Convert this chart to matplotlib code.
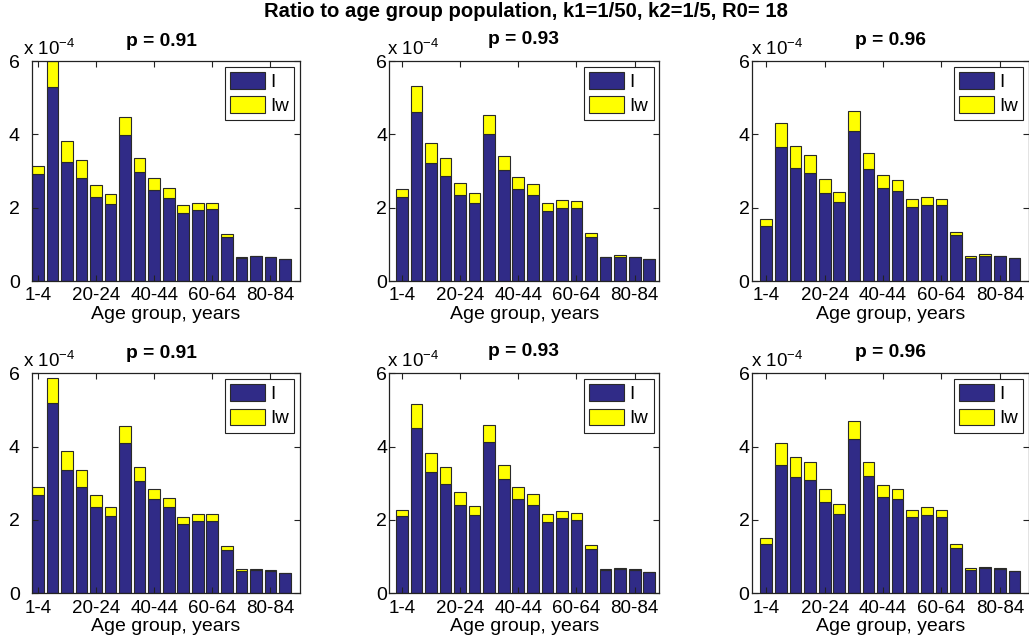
import matplotlib
matplotlib.use("Agg")
import matplotlib.pyplot as plt
from matplotlib.patches import Patch

plt.rcParams["font.family"] = ["Liberation Sans", "DejaVu Sans"]
plt.rcParams["mathtext.fontset"] = "custom"
plt.rcParams["mathtext.rm"] = "Liberation Sans"
plt.rcParams["mathtext.it"] = "Liberation Sans"

# ---- data (values in units of 1e-4) ----
age_groups = ["1-4", "5-9", "10-14", "15-19", "20-24", "25-29", "30-34", "35-39",
              "40-44", "45-49", "50-54", "55-59", "60-64", "65-69", "70-74",
              "75-79", "80-84", "85+"]
shown_ticks = ["1-4", "20-24", "40-44", "60-64", "80-84"]
scale = 1e-4
p_values = [0.91, 0.93, 0.96, 0.91, 0.93, 0.96]

i_top_091 = [2.93, 5.30, 3.24, 2.80, 2.29, 2.11, 3.98, 2.96, 2.48, 2.27, 1.85, 1.94, 1.96, 1.20, 0.62, 0.67, 0.655, 0.59]
iw_top_091 = [0.22, 0.70, 0.59, 0.49, 0.33, 0.25, 0.48, 0.40, 0.32, 0.28, 0.21, 0.19, 0.17, 0.09, 0.04, 0.01, 0.01, 0.01]

i_top_093 = [2.30, 4.62, 3.22, 2.87, 2.34, 2.13, 4.02, 3.02, 2.50, 2.34, 1.92, 1.98, 1.98, 1.20, 0.655, 0.66, 0.655, 0.59]
iw_top_093 = [0.22, 0.70, 0.55, 0.49, 0.34, 0.26, 0.50, 0.39, 0.35, 0.30, 0.21, 0.22, 0.19, 0.11, 0.01, 0.05, 0.01, 0.01]

i_top_096 = [1.50, 3.65, 3.08, 2.95, 2.41, 2.15, 4.08, 3.05, 2.55, 2.45, 2.02, 2.08, 2.06, 1.25, 0.62, 0.68, 0.67, 0.62]
iw_top_096 = [0.18, 0.65, 0.59, 0.50, 0.37, 0.27, 0.55, 0.43, 0.33, 0.30, 0.23, 0.21, 0.19, 0.10, 0.05, 0.06, 0.01, 0.01]

i_bot_091 = [2.67, 5.18, 3.35, 2.90, 2.35, 2.11, 4.09, 3.06, 2.56, 2.35, 1.88, 1.97, 1.97, 1.18, 0.61, 0.63, 0.62, 0.55]
iw_bot_091 = [0.22, 0.68, 0.53, 0.47, 0.32, 0.24, 0.46, 0.39, 0.29, 0.25, 0.21, 0.19, 0.18, 0.10, 0.04, 0.04, 0.01, 0.01]

i_bot_093 = [2.10, 4.51, 3.30, 2.97, 2.42, 2.14, 4.14, 3.11, 2.57, 2.42, 1.95, 2.05, 2.01, 1.21, 0.64, 0.66, 0.64, 0.57]
iw_bot_093 = [0.17, 0.64, 0.52, 0.48, 0.33, 0.23, 0.46, 0.38, 0.32, 0.28, 0.21, 0.19, 0.18, 0.10, 0.01, 0.02, 0.01, 0.01]

i_bot_096 = [1.35, 3.51, 3.17, 3.08, 2.49, 2.17, 4.22, 3.20, 2.64, 2.56, 2.07, 2.14, 2.08, 1.24, 0.64, 0.69, 0.65, 0.61]
iw_bot_096 = [0.16, 0.58, 0.54, 0.49, 0.36, 0.26, 0.49, 0.37, 0.31, 0.29, 0.21, 0.20, 0.19, 0.10, 0.05, 0.02, 0.04, 0.01]

panels_i = [i_top_091, i_top_093, i_top_096, i_bot_091, i_bot_093, i_bot_096]
panels_iw = [iw_top_091, iw_top_093, iw_top_096, iw_bot_091, iw_bot_093, iw_bot_096]

# ---- layout (pixels) ----
W, H = 1029, 641
fig = plt.figure(figsize=(W / 100, H / 100), dpi=100)
fig.patch.set_facecolor("white")

col_box = [(31.7, 300.0, (0.58, 19.03), 23.0, 8.5),
           (389.3, 659.3, (0.14, 18.69), 387.0, 1.5),
           (751.7, 1029.0, (0.0, 19.0), 751.0, 1.5)]
row_box = [(61.0, 281.0), (373.3, 593.3)]
title_lift = [15, 17, 16]

c_i = "#302b87"
c_iw = "#ffff00"
edge = "#2a2a2a"
fs = 13.5

x = list(range(1, len(age_groups) + 1))
tick_pos = [x[age_groups.index(t)] for t in shown_ticks]

for k in range(6):
    r, c = divmod(k, 3)
    left, right, xlim, virt_left, ypad = col_box[c]
    top, bottom = row_box[r]
    ax = fig.add_axes([left / W, 1 - bottom / H, (right - left) / W, (bottom - top) / H])

    iv = [v * scale for v in panels_i[k]]
    iwv = [v * scale for v in panels_iw[k]]
    ax.bar(x, iv, width=0.8, color=c_i, edgecolor=edge, linewidth=0.8, label="I")
    ax.bar(x, iwv, width=0.8, bottom=iv, color=c_iw, edgecolor=edge, linewidth=0.8, label="Iw")

    ax.set_xlim(*xlim)
    ax.set_ylim(0, 6 * scale)
    ax.set_xticks(tick_pos)
    ax.set_xticklabels(shown_ticks, fontsize=fs)
    yt = [0, 2, 4, 6]
    ax.set_yticks([v * scale for v in yt])
    ax.set_yticklabels([str(v) for v in yt], fontsize=fs + 0.5)
    ax.tick_params(axis="both", direction="in", length=4, width=0.8,
                   top=True, right=True, colors="#222222", labelcolor="black")
    ax.tick_params(axis="y", pad=ypad)
    ax.tick_params(axis="x", pad=4.5)
    for s in ax.spines.values():
        s.set_linewidth(0.9)
        s.set_color("#222222")

    ax.set_xlabel("Age group, years", fontsize=fs + 0.5, labelpad=1)

    # exponent label above the axis
    fig.text(virt_left / W, 1 - (top - 6) / H, r"x 10$^{-4}$", fontsize=fs,
             ha="left", va="baseline")
    # panel title centred over the full bar range
    cx = (virt_left + right) / 2 if c < 2 else (left + right) / 2
    fig.text(cx / W, 1 - (top - title_lift[c]) / H, "p = %.2f" % p_values[k],
             fontsize=fs + 0.3, fontweight="bold", ha="center", va="baseline")

    handles = [Patch(facecolor=c_i, edgecolor=edge, linewidth=0.8),
               Patch(facecolor=c_iw, edgecolor=edge, linewidth=0.8)]
    leg = ax.legend(handles, ["I", "Iw"], loc="upper right", fontsize=fs,
                    handlelength=1.85, handleheight=1.0, handletextpad=0.3,
                    labelspacing=0.3, borderpad=0.28, borderaxespad=0.3,
                    fancybox=False, framealpha=1, edgecolor="#222222")
    leg.get_frame().set_linewidth(0.8)

fig.text(526 / W, 1 - 17 / H,
         "Ratio to age group population, k1=1/50, k2=1/5, R0= 18",
         fontsize=14.6, fontweight="bold", ha="center", va="baseline")

fig.savefig("out.png", dpi=100, facecolor="white")
